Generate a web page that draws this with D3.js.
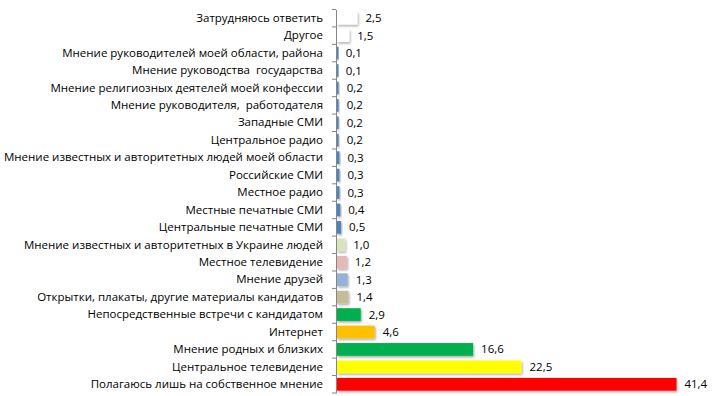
<!DOCTYPE html>
<html>
<head>
<meta charset="utf-8">
<script src="https://cdn.jsdelivr.net/npm/d3@7"></script>
<style>
  body { margin: 0; background: #fff; }
  text { font-family: "Open Sans", "Noto Sans", sans-serif; font-size: 11.5px; fill: #000; white-space: pre; }
</style>
</head>
<body>
<div id="chart"></div>
<script>
// categories, top to bottom
const categories = [
  "Затрудняюсь ответить",
  "Другое",
  "Мнение руководителей моей области, района",
  "Мнение руководства  государства",
  "Мнение религиозных деятелей моей конфессии",
  "Мнение руководителя,  работодателя",
  "Западные СМИ",
  "Центральное радио",
  "Мнение известных и авторитетных людей моей области",
  "Российские СМИ",
  "Местное радио",
  "Местные печатные СМИ",
  "Центральные печатные СМИ",
  "Мнение известных и авторитетных в Украине людей",
  "Местное телевидение",
  "Мнение друзей",
  "Открытки, плакаты, другие материалы кандидатов",
  "Непосредственные встречи с кандидатом",
  "Интернет",
  "Мнение родных и близких",
  "Центральное телевидение",
  "Полагаюсь лишь на собственное мнение"
];
const values = [2.5, 1.5, 0.1, 0.1, 0.2, 0.2, 0.2, 0.2, 0.3, 0.3, 0.3, 0.4, 0.5, 1.0, 1.2, 1.3, 1.4, 2.9, 4.6, 16.6, 22.5, 41.4];
const barColors = ["#ffffff", "#ffffff", "#4f81bd", "#4f81bd", "#4f81bd", "#4f81bd", "#4f81bd", "#4f81bd", "#4f81bd", "#4f81bd", "#4f81bd", "#4f81bd", "#4f81bd",
  "#d7e4bd", "#e6b9b8", "#95b3d7", "#c4bd97", "#00b050", "#ffc000", "#00b050", "#ffff00", "#ff0000"];

const W = 713, H = 396;
const plotTop = 9.5, plotBottom = 393, x0 = 336;

const data = categories.map((c, i) => ({cat: c, val: values[i], color: barColors[i]}));

const svg = d3.select("#chart").append("svg")
    .attr("width", W)
    .attr("height", H);

// soft excel-like shadow
const defs = svg.append("defs");
const f = defs.append("filter").attr("id", "shadow")
    .attr("x", "-20%").attr("y", "-20%").attr("width", "150%").attr("height", "160%");
f.append("feDropShadow").attr("dx", 1).attr("dy", 1.5).attr("stdDeviation", 0.8)
    .attr("flood-color", "#000").attr("flood-opacity", 0.35);

const x = d3.scaleLinear().domain([0, 45]).range([x0 + 1, 706]);
const y = d3.scaleBand().domain(categories).range([plotTop, plotBottom]).paddingInner(0.27).paddingOuter(0.135);
const yb = d3.scaleBand().domain(categories).range([plotTop, plotBottom]);

// bars
svg.append("g").selectAll("rect")
  .data(data)
  .join("rect")
    .attr("x", x(0))
    .attr("y", d => y(d.cat))
    .attr("width", d => Math.max(1.5, x(d.val) - x(0)))
    .attr("height", y.bandwidth())
    .attr("fill", d => d.color)
    .attr("filter", "url(#shadow)");

// value labels
svg.append("g").selectAll("text")
  .data(data)
  .join("text")
    .attr("x", d => x(d.val) + 8)
    .attr("y", d => yb(d.cat) + yb.bandwidth() / 2)
    .attr("dy", "0.35em")
    .text(d => d3.format(".1f")(d.val).replace(".", ","));

// axis
const axis = svg.append("g").attr("transform", "translate(" + x0 + ",0)")
    .call(d3.axisLeft(yb).tickSize(0).tickPadding(13));
axis.select(".domain").attr("stroke", "#868686");
axis.attr("font-family", null).attr("font-size", null);

// boundary ticks between categories
svg.append("g").selectAll("line")
  .data(categories.concat(["end"]))
  .join("line")
    .attr("x1", x0 - 4).attr("x2", x0)
    .attr("y1", (d, i) => plotTop + i * yb.step())
    .attr("y2", (d, i) => plotTop + i * yb.step())
    .attr("stroke", "#868686");
</script>
</body>
</html>
